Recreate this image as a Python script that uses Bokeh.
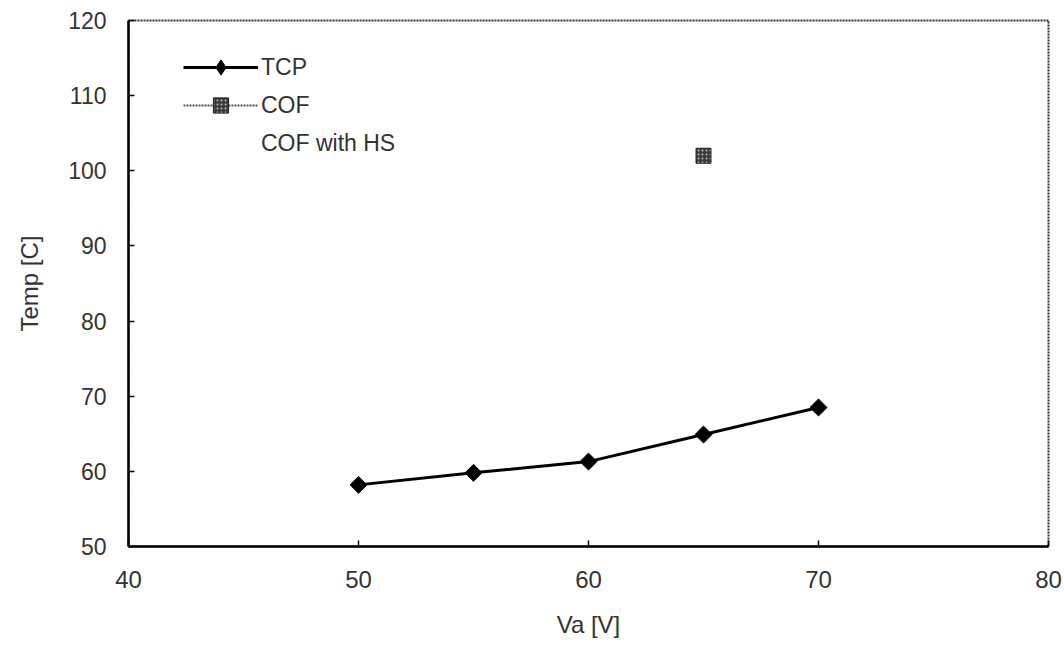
import math
from bokeh.plotting import figure
from bokeh.models import Legend, LegendItem, Range1d, FixedTicker, ColumnDataSource
from bokeh.embed import file_html
from bokeh.resources import INLINE

# data
tcp_x = [50, 55, 60, 65, 70]
tcp_y = [58.2, 59.8, 61.3, 64.9, 68.5]
cof_x = [65]
cof_y = [102.0]
cof_hs_x = []
cof_hs_y = []
x_ticks = [40, 50, 60, 70, 80]
y_ticks = [50, 60, 70, 80, 90, 100, 110, 120]

FONT = "Liberation Sans"
TXT = "#333333"

p = figure(width=1062, height=641, output_backend="svg", toolbar_location=None,
           x_range=Range1d(40, 80), y_range=Range1d(50, 120),
           min_border_left=128, min_border_right=14, min_border_top=20, min_border_bottom=95)
p.frame_width = 920
p.frame_height = 526

p.xgrid.visible = False
p.ygrid.visible = False
p.outline_line_color = "#333333"
p.outline_line_width = 2
p.outline_line_dash = "2 1"

for ax, ticks in ((p.xaxis[0], x_ticks), (p.yaxis[0], y_ticks)):
    ax.ticker = FixedTicker(ticks=ticks)
    ax.axis_line_color = "black"
    ax.axis_line_width = 2.5
    ax.major_tick_in = 6
    ax.major_tick_out = 0
    ax.major_tick_line_color = "black"
    ax.major_tick_line_width = 1.5
    ax.minor_tick_line_color = None
    ax.major_label_text_font = FONT
    ax.major_label_text_color = TXT
    ax.axis_label_text_font = FONT
    ax.axis_label_text_font_size = "24px"
    ax.axis_label_text_font_style = "normal"
    ax.axis_label_text_color = TXT

p.xaxis.major_label_text_font_size = "24px"
p.yaxis.major_label_text_font_size = "23px"
p.xaxis.axis_label = "Va [V]"
p.yaxis.axis_label = "Temp [C]"
p.xaxis.major_label_standoff = 24
p.xaxis.axis_label_standoff = 20
p.yaxis.major_label_standoff = 22
p.yaxis.axis_label_standoff = 22

src_tcp = ColumnDataSource(dict(x=tcp_x, y=tcp_y))
src_cof = ColumnDataSource(dict(x=cof_x, y=cof_y))
src_hs = ColumnDataSource(dict(x=cof_hs_x, y=cof_hs_y))

tcp_line = p.line("x", "y", source=src_tcp, line_color="black", line_width=3)
# small diamonds (hidden under the main markers) that provide the legend symbol
tcp_leg = p.scatter("x", "y", source=src_tcp, marker="diamond", size=10,
                    fill_color="black", line_color="black")
tcp_mark = p.scatter("x", "y", source=src_tcp, marker="square", angle=math.pi / 4, size=12,
                     fill_color="black", line_color="black")

cof_line = p.line("x", "y", source=src_cof, line_color="#555555", line_width=2, line_dash="2 1")
cof_mark = p.scatter("x", "y", source=src_cof, marker="square", size=15,
                     fill_color="#3a3a3a", line_color="#222222",
                     hatch_pattern="dot", hatch_color="#bbbbbb", hatch_scale=4, hatch_weight=1)

hs_line = p.line("x", "y", source=src_hs, line_color="white", line_alpha=0)

legend = Legend(items=[
    LegendItem(label="TCP", renderers=[tcp_line, tcp_leg]),
    LegendItem(label="COF", renderers=[cof_line, cof_mark]),
    LegendItem(label="COF with HS", renderers=[hs_line]),
], location=(55, 384))
legend.border_line_color = None
legend.background_fill_alpha = 0
legend.padding = 5
legend.margin = 0
legend.spacing = 0
legend.glyph_width = 75
legend.glyph_height = 38
legend.label_height = 38
legend.label_standoff = 3
legend.label_text_font = FONT
legend.label_text_font_size = "23px"
legend.label_text_color = TXT
p.add_layout(legend)

open("out.html", "w").write(file_html(p, INLINE))
